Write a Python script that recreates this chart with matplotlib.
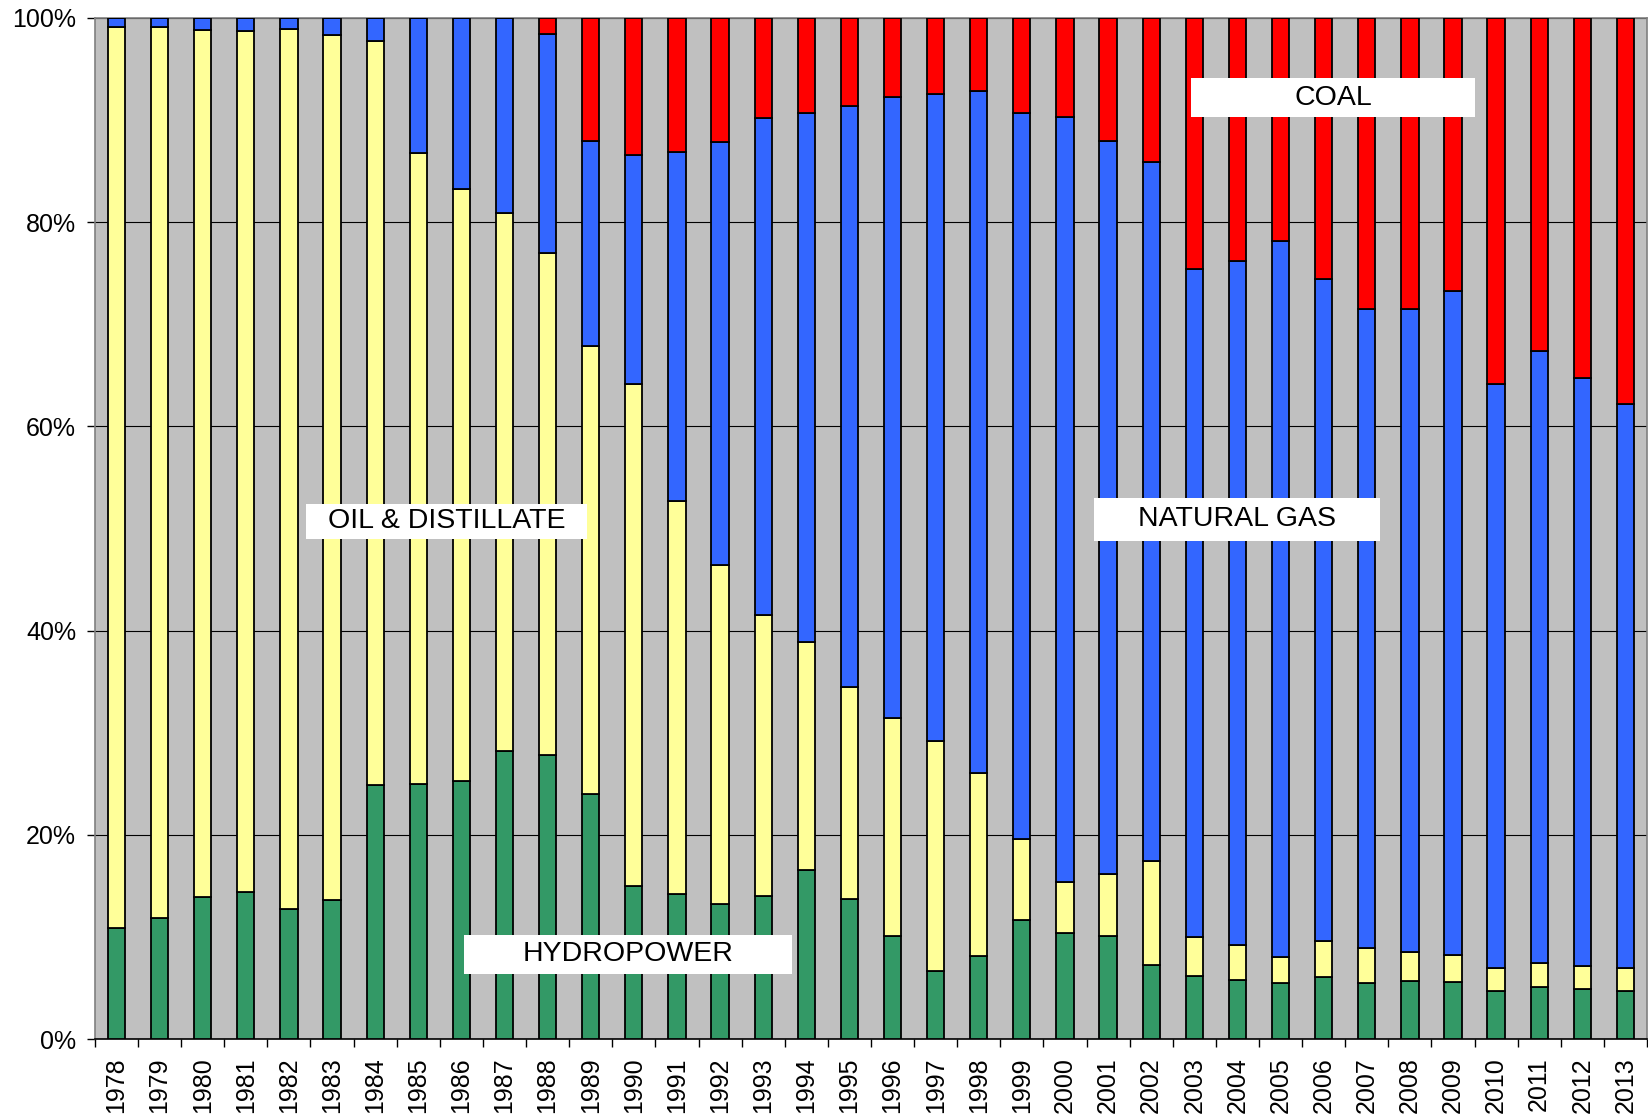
import numpy as np
import matplotlib
matplotlib.use("Agg")
import matplotlib.pyplot as plt
from matplotlib.patches import Rectangle
from matplotlib.ticker import FixedLocator, PercentFormatter

plt.rcParams['font.family'] = ['Liberation Sans', 'DejaVu Sans']

# Years and share of generation by source (%)
years = list(range(1978, 2014))

hydro = [10.9, 11.9, 13.9, 14.4, 12.7, 13.6, 24.9, 25.0, 25.3, 28.2, 27.8, 24.0,
         15.0, 14.2, 13.2, 14.0, 16.6, 13.7, 10.1, 6.7, 8.1, 11.7, 10.4, 10.1,
         7.3, 6.2, 5.8, 5.5, 6.1, 5.5, 5.7, 5.6, 4.7, 5.1, 4.9, 4.7]

oil = [88.2, 87.2, 84.9, 84.3, 86.2, 84.7, 72.8, 61.8, 58.0, 52.7, 49.2, 43.9,
       49.2, 38.5, 33.2, 27.5, 22.3, 20.8, 21.4, 22.5, 18.0, 7.9, 5.0, 6.1,
       10.1, 3.8, 3.4, 2.5, 3.5, 3.4, 2.8, 2.6, 2.3, 2.4, 2.3, 2.3]

gas = [0.9, 0.9, 1.2, 1.3, 1.1, 1.7, 2.3, 13.2, 16.7, 19.1, 21.4, 20.1,
       22.4, 34.2, 41.5, 48.7, 51.8, 56.9, 60.8, 63.4, 66.8, 71.1, 74.9, 71.8,
       68.5, 65.4, 67.0, 70.2, 64.8, 62.6, 63.0, 65.1, 57.2, 59.9, 57.5, 55.2]

coal = [0, 0, 0, 0, 0, 0, 0, 0, 0, 0, 1.6, 12.0,
        13.4, 13.1, 12.1, 9.8, 9.3, 8.6, 7.7, 7.4, 7.1, 9.3, 9.7, 12.0,
        14.1, 24.6, 23.8, 21.8, 25.6, 28.5, 28.5, 26.7, 35.8, 32.6, 35.3, 37.8]

series = [hydro, oil, gas, coal]
colors = ['#339966', '#FFFF99', '#3366FF', '#FF0000']

# label boxes: text, x0, x1 (category units), y0, y1 (%)
labels = ['OIL & DISTILLATE', 'COAL', 'NATURAL GAS', 'HYDROPOWER']
box_x = [(4.40, 10.92), (24.93, 31.50), (22.68, 29.31), (8.06, 15.67)]
box_y = [(49.0, 52.4), (90.3, 94.1), (48.8, 53.0), (6.4, 10.2)]

fig = plt.figure(figsize=(16.48, 11.18), dpi=100)
ax = fig.add_axes([0.0576, 0.0705, 0.9418, 0.9134])
ax.set_facecolor('#C0C0C0')

x = np.arange(len(years))
data = np.array(series, dtype=float)
data = data / data.sum(axis=0) * 100
bottom = np.zeros(len(years))
for vals, c in zip(data, colors):
    ax.bar(x, vals, bottom=bottom, width=0.4, color=c, edgecolor='black',
           linewidth=1.3, zorder=3)
    bottom += vals

ax.set_xlim(-0.5, len(years) - 0.5)
ax.set_ylim(0, 100)

ax.set_yticks([0, 20, 40, 60, 80, 100])
ax.yaxis.set_major_formatter(PercentFormatter(decimals=0))
ax.grid(axis='y', color='black', linewidth=0.8)
ax.set_axisbelow(True)
ax.tick_params(axis='y', labelsize=18, length=5.5, width=1, pad=8, color='black')

ax.set_xticks(x)
ax.set_xticklabels([str(y) for y in years], rotation=90, fontsize=18)
ax.tick_params(axis='x', which='major', length=0, pad=13)
ax.xaxis.set_minor_locator(FixedLocator(np.arange(-0.5, len(years), 1.0)))
ax.tick_params(axis='x', which='minor', length=5.5, width=1, color='black')

for side in ['top', 'right', 'left']:
    ax.spines[side].set_color('#808080')
    ax.spines[side].set_linewidth(1.2)
ax.spines['bottom'].set_color('black')
ax.spines['bottom'].set_linewidth(1.2)

for txt, (x0, x1), (y0, y1) in zip(labels, box_x, box_y):
    ax.add_patch(Rectangle((x0, y0), x1 - x0, y1 - y0,
                           facecolor='white', edgecolor='none', zorder=5))
    ax.text((x0 + x1) / 2, (y0 + y1) / 2, txt, ha='center', va='center',
            fontsize=20.5, color='black', zorder=6)

plt.savefig('out.png', dpi=100)
